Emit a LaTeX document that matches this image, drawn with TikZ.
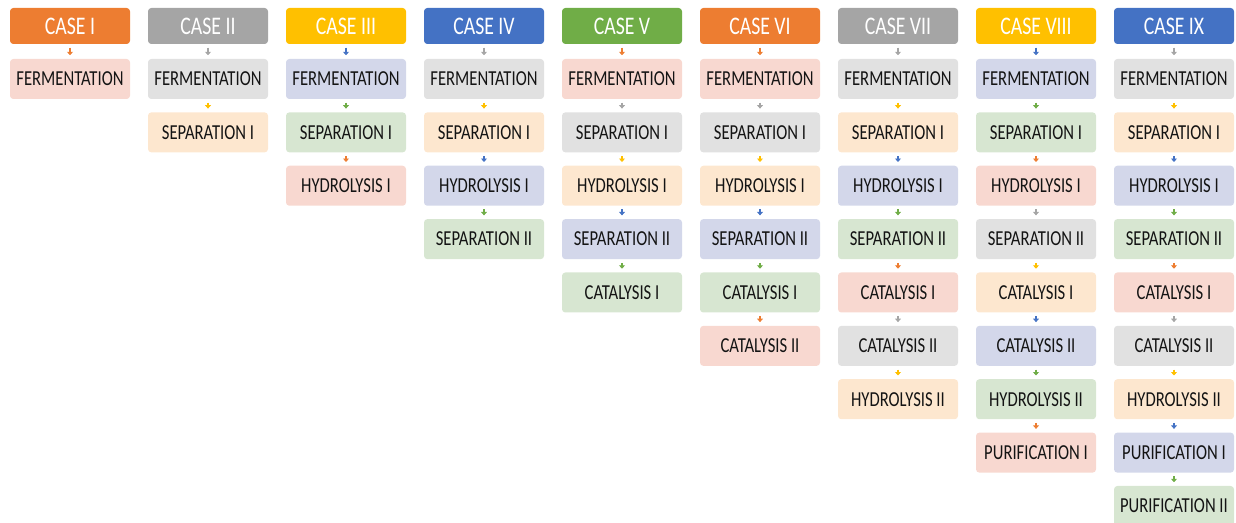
\documentclass[tikz,border=0pt]{standalone}
\usepackage{fontspec}
\setmainfont{Carlito}
\newfontfamily\cond[FakeStretch=0.78]{Carlito}
\usetikzlibrary{arrows.meta}
\definecolor{orD}{HTML}{ED7D31}
\definecolor{gyD}{HTML}{A5A5A5}
\definecolor{ylD}{HTML}{FFC000}
\definecolor{blD}{HTML}{4472C4}
\definecolor{grD}{HTML}{70AD47}
\definecolor{orL}{HTML}{F8D8D0}
\definecolor{gyL}{HTML}{E1E1E1}
\definecolor{ylL}{HTML}{FDE7CF}
\definecolor{blL}{HTML}{D3D7EA}
\definecolor{grL}{HTML}{D7E6D1}
\definecolor{txt}{HTML}{141414}
\tikzset{
  hdr/.style={rounded corners=2.5pt, minimum width=90pt, minimum height=27pt, inner sep=0pt,
    text=white, font=\cond\fontsize{19}{21}\selectfont},
  box/.style={rounded corners=2.5pt, minimum width=90pt, minimum height=30pt, inner sep=0pt,
    text=txt, font=\cond\fontsize{16}{18}\selectfont},
  arr/.style={line width=1.9pt, -{Triangle[length=2.6pt,width=4.4pt]}, shorten <=2.6pt, shorten >=2.6pt}
}
\newcommand\casecol[4]{%
  \node[hdr, fill=#3D] (n#1-0) at ({70+138*(#1-1)}, 26) {#2};
  \foreach \t/\c [count=\k] in {#4} {
    \pgfmathtruncatemacro\prev{\k-1}
    \node[box, fill=\c L] (n#1-\k) at ({70+138*(#1-1)}, {79+53.375*(\k-1)}) {\t};
    \draw[arr, draw=\c D] (n#1-\prev.south) -- (n#1-\k.north);
  }%
}
\begin{document}
\begin{tikzpicture}[x=0.75pt, y=-0.75pt]
\useasboundingbox (0,0) rectangle (1236,523);
\casecol{1}{CASE I}{or}{FERMENTATION/or}
\casecol{2}{CASE II}{gy}{FERMENTATION/gy,SEPARATION I/yl}
\casecol{3}{CASE III}{yl}{FERMENTATION/bl,SEPARATION I/gr,HYDROLYSIS I/or}
\casecol{4}{CASE IV}{bl}{FERMENTATION/gy,SEPARATION I/yl,HYDROLYSIS I/bl,SEPARATION II/gr}
\casecol{5}{CASE V}{gr}{FERMENTATION/or,SEPARATION I/gy,HYDROLYSIS I/yl,SEPARATION II/bl,CATALYSIS I/gr}
\casecol{6}{CASE VI}{or}{FERMENTATION/or,SEPARATION I/gy,HYDROLYSIS I/yl,SEPARATION II/bl,CATALYSIS I/gr,CATALYSIS II/or}
\casecol{7}{CASE VII}{gy}{FERMENTATION/gy,SEPARATION I/yl,HYDROLYSIS I/bl,SEPARATION II/gr,CATALYSIS I/or,CATALYSIS II/gy,HYDROLYSIS II/yl}
\casecol{8}{CASE VIII}{yl}{FERMENTATION/bl,SEPARATION I/gr,HYDROLYSIS I/or,SEPARATION II/gy,CATALYSIS I/yl,CATALYSIS II/bl,HYDROLYSIS II/gr,PURIFICATION I/or}
\casecol{9}{CASE IX}{bl}{FERMENTATION/gy,SEPARATION I/yl,HYDROLYSIS I/bl,SEPARATION II/gr,CATALYSIS I/or,CATALYSIS II/gy,HYDROLYSIS II/yl,PURIFICATION I/bl,PURIFICATION II/gr}
\end{tikzpicture}
\end{document}
